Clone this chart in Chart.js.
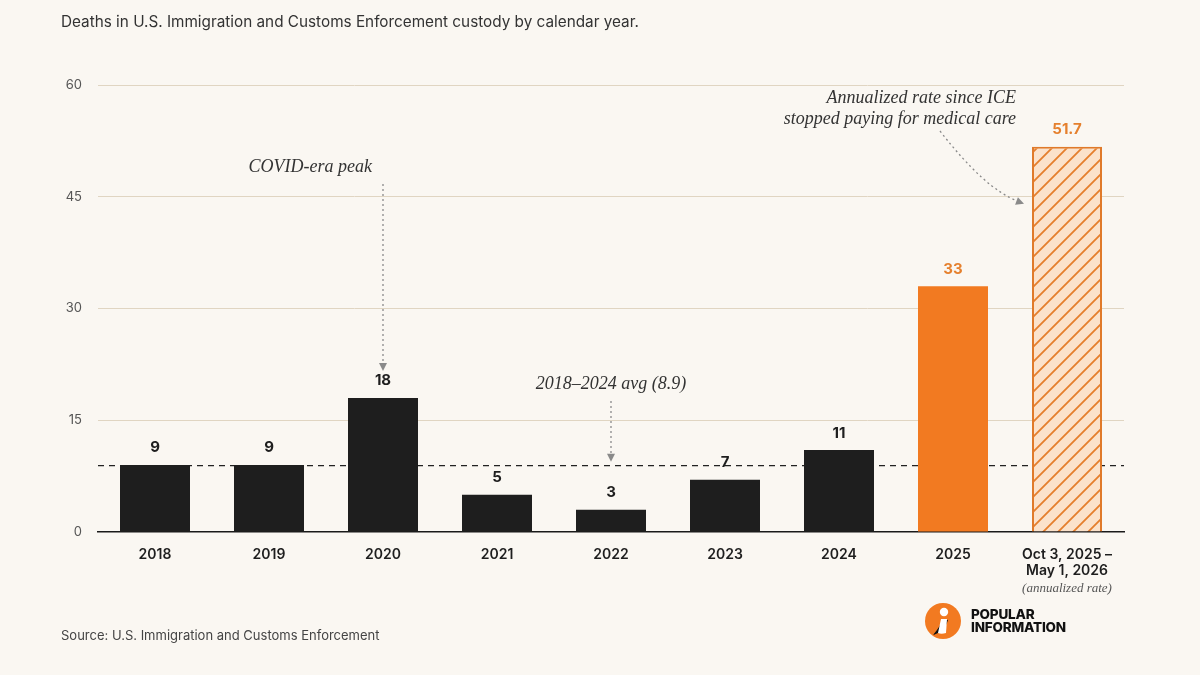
<!DOCTYPE html>
<html>
<head>
<meta charset="utf-8">
<script src="https://cdn.jsdelivr.net/npm/chart.js@4.4.1/dist/chart.umd.min.js"></script>
<style>
  html, body { margin: 0; padding: 0; background: #faf7f2; }
  #wrap { position: relative; width: 1200px; height: 675px; background: #faf7f2; }
  #title { position: absolute; left: 61px; top: 12px; font: 15.3px Inter, sans-serif; color: #333; }
  #source { position: absolute; left: 61px; top: 627px; font: 13px Inter, sans-serif; color: #444; }
  #logo { position: absolute; left: 924px; top: 602px; display: flex; align-items: center; }
  #logo .name { margin-left: 9px; font: 800 13.5px/13px Inter, sans-serif; color: #111; letter-spacing: -0.2px; }
</style>
</head>
<body>
<div id="wrap">
  <canvas id="deathsChart"></canvas>
  <div id="title">Deaths in U.S. Immigration and Customs Enforcement custody by calendar year.</div>
  <div id="source">Source: U.S. Immigration and Customs Enforcement</div>
  <div id="logo">
    <svg width="38" height="38" viewBox="0 0 38 38">
      <circle cx="19" cy="19" r="18" fill="#f27a21"/>
      <path d="M9 33 C 14 27, 17 22, 19 17 L 24 18 C 22 25, 17 31, 9 33 Z" fill="#111"/>
      <path d="M17 17 L 23 17 L 22 31 C 19 32, 16 32, 14 31 Z" fill="#fff"/>
      <circle cx="20" cy="10" r="4.2" fill="#fff"/>
    </svg>
    <div class="name">POPULAR<br>INFORMATION</div>
  </div>
</div>
<script>
const years = ['2018', '2019', '2020', '2021', '2022', '2023', '2024', '2025', ['Oct 3, 2025 –', 'May 1, 2026']];
const deaths = [9, 9, 18, 5, 3, 7, 11, 33, 51.7];
const avgDeaths = 8.9;
const yTicks = [0, 15, 30, 45, 60];

const black = '#1e1e1e';
const orange = '#f27a21';
const orangeText = '#e5802e';

// diagonal hatch for the annualized bar
function makeHatch() {
  const size = 15;
  const c = document.createElement('canvas');
  c.width = size; c.height = size;
  const g = c.getContext('2d');
  g.fillStyle = '#fbe2cb';
  g.fillRect(0, 0, size, size);
  g.strokeStyle = '#e57e2c';
  g.lineWidth = 1.8;
  g.beginPath();
  g.moveTo(-2, size + 2); g.lineTo(size + 2, -2);
  g.moveTo(-2, 2); g.lineTo(2, -2);
  g.moveTo(size - 2, size + 2); g.lineTo(size + 2, size - 2);
  g.stroke();
  return g.createPattern(c, 'repeat');
}

const barColors = deaths.map((v, i) => i < 7 ? black : (i === 7 ? orange : makeHatch()));
const labelColors = deaths.map((v, i) => i < 7 ? black : orangeText);

function arrowHead(ctx, x, y, angle) {
  ctx.save();
  ctx.translate(x, y);
  ctx.rotate(angle);
  ctx.beginPath();
  ctx.moveTo(0, 0);
  ctx.lineTo(-8, -4);
  ctx.lineTo(-8, 4);
  ctx.closePath();
  ctx.fill();
  ctx.restore();
}

const avgLinePlugin = {
  id: 'avgLine',
  beforeDatasetsDraw(chart) {
    const { ctx, chartArea, scales } = chart;
    const y = scales.y.getPixelForValue(avgDeaths);
    ctx.save();
    ctx.strokeStyle = '#222';
    ctx.lineWidth = 1.2;
    ctx.setLineDash([6, 5]);
    ctx.beginPath();
    ctx.moveTo(chartArea.left, y);
    ctx.lineTo(chartArea.right, y);
    ctx.stroke();
    ctx.restore();
  }
};

const labelsPlugin = {
  id: 'barLabels',
  afterDatasetsDraw(chart) {
    const { ctx } = chart;
    const meta = chart.getDatasetMeta(0);
    ctx.save();
    ctx.font = "bold 15px Inter";
    ctx.textAlign = 'center';
    ctx.textBaseline = 'middle';
    meta.data.forEach((bar, i) => {
      ctx.fillStyle = labelColors[i];
      ctx.fillText(String(deaths[i]), bar.x, bar.y - 17);
    });
    ctx.restore();
  }
};

const notesPlugin = {
  id: 'notes',
  afterDraw(chart) {
    const { ctx, scales } = chart;
    const meta = chart.getDatasetMeta(0);
    ctx.save();
    ctx.font = "italic 18px 'Liberation Serif'";
    ctx.fillStyle = '#333';
    ctx.textBaseline = 'middle';

    // COVID-era peak
    const covid = meta.data[2];
    ctx.textAlign = 'right';
    ctx.fillText('COVID-era peak', covid.x - 11, 167);

    // 2018-2024 average
    const low = meta.data[4];
    ctx.textAlign = 'center';
    ctx.fillText('2018–2024 avg (8.9)', low.x, 384);

    // annualized rate
    const last = meta.data[8];
    const lastLeft = last.x - last.width / 2;
    ctx.textAlign = 'right';
    ctx.fillText('Annualized rate since ICE', lastLeft - 16, 98);
    ctx.fillText('stopped paying for medical care', lastLeft - 16, 119);

    // "(annualized rate)" under last tick
    ctx.font = "italic 13px 'Liberation Serif'";
    ctx.fillStyle = '#555';
    ctx.textAlign = 'center';
    ctx.fillText('(annualized rate)', last.x, 589);

    // arrows
    ctx.strokeStyle = '#8a8a8a';
    ctx.fillStyle = '#8a8a8a';
    ctx.lineWidth = 1.3;
    ctx.setLineDash([2, 3]);

    const covidEnd = covid.y - 27;
    ctx.beginPath();
    ctx.moveTo(covid.x, 184);
    ctx.lineTo(covid.x, covidEnd - 6);
    ctx.stroke();

    const avgY = scales.y.getPixelForValue(avgDeaths);
    ctx.beginPath();
    ctx.moveTo(low.x, 401);
    ctx.lineTo(low.x, avgY - 10);
    ctx.stroke();

    const sx = lastLeft - 92, sy = 131;
    const ex = lastLeft - 8, ey = scales.y.getPixelForValue(45) + 7;
    const cx = sx + 45, cy = sy + 58;
    ctx.beginPath();
    ctx.moveTo(sx, sy);
    ctx.quadraticCurveTo(cx, cy, ex - 6, ey - 2.5);
    ctx.stroke();

    ctx.setLineDash([]);
    arrowHead(ctx, covid.x, covidEnd, Math.PI / 2);
    arrowHead(ctx, low.x, avgY - 4, Math.PI / 2);
    arrowHead(ctx, ex, ey, Math.atan2(ey - cy, ex - cx));
    ctx.restore();
  }
};

new Chart(document.getElementById('deathsChart'), {
  type: 'bar',
  data: {
    labels: years,
    datasets: [{
      data: deaths,
      backgroundColor: barColors,
      borderColor: deaths.map((v, i) => i === 8 ? '#e07a2a' : 'rgba(0,0,0,0)'),
      borderWidth: deaths.map((v, i) => i === 8 ? 2 : 0),
      borderSkipped: 'bottom',
      barPercentage: 0.614,
      categoryPercentage: 1
    }]
  },
  options: {
    responsive: true,
    maintainAspectRatio: false,
    animation: false,
    layout: { padding: { top: 85, right: 76, left: 0, bottom: 0 } },
    plugins: { legend: { display: false }, tooltip: { enabled: false } },
    scales: {
      x: {
        grid: { display: false, drawTicks: false },
        border: { display: true, color: '#1a1a1a', width: 1.5 },
        ticks: {
          padding: 14,
          color: '#1e1e1e',
          font: { family: 'Inter', size: 14, weight: '600' }
        },
        afterFit(scale) { scale.height = 143; }
      },
      y: {
        min: 0,
        max: 60,
        afterBuildTicks(scale) { scale.ticks = yTicks.map(v => ({ value: v })); },
        grid: {
          drawTicks: false,
          color: ctx => ctx.tick && ctx.tick.value === 0 ? 'rgba(0,0,0,0)' : '#e0d5c2',
          lineWidth: 1
        },
        border: { display: false },
        ticks: {
          padding: 16,
          color: '#555',
          font: { family: 'Inter', size: 13 }
        },
        afterFit(scale) { scale.width = 98; }
      }
    }
  },
  plugins: [avgLinePlugin, labelsPlugin, notesPlugin]
});
</script>
</body>
</html>
